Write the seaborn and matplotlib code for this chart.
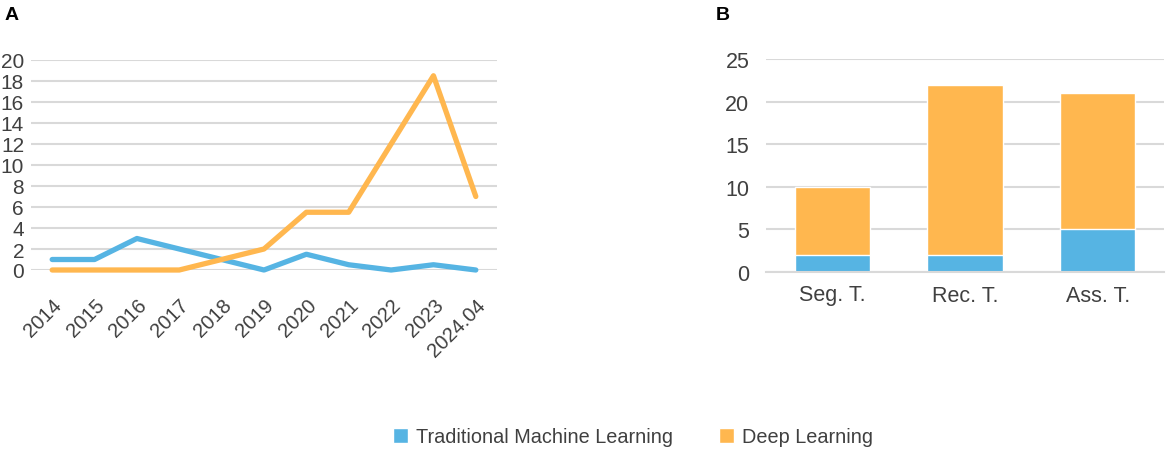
import pandas as pd
import matplotlib
matplotlib.use('Agg')
import matplotlib.pyplot as plt
from matplotlib.patches import Patch
import seaborn as sns

# Panel A: yearly counts
years = ['2014', '2015', '2016', '2017', '2018', '2019', '2020',
         '2021', '2022', '2023', '2024.04']
traditional_ml = [1, 1, 3, 2, 1, 0, 1.5, 0.5, 0, 0.5, 0]
deep_learning = [0, 0, 0, 0, 1, 2, 5.5, 5.5, 12, 18.5, 7]

# Panel B: counts per task
tasks = ['Seg. T.', 'Rec. T.', 'Ass. T.']
task_traditional = [2, 2, 5]
task_deep = [8, 20, 16]

BLUE = '#56B4E3'
ORANGE = '#FFB74F'
GRID = '#D9D9D9'
TEXT = '#404040'

sns.set_style('white')
plt.rcParams['font.family'] = ['Liberation Sans', 'DejaVu Sans']

fig = plt.figure(figsize=(11.7, 4.56), dpi=100)
ax1 = fig.add_axes([31 / 1170, 1 - 271 / 456, 466 / 1170, 210 / 456])
ax2 = fig.add_axes([766 / 1170, 1 - 273 / 456, 398 / 1170, 213 / 456])

# ---- A: line chart
df_a = pd.DataFrame({
    'year': years * 2,
    'count': traditional_ml + deep_learning,
    'method': ['Traditional Machine Learning'] * len(years) + ['Deep Learning'] * len(years),
})
sns.lineplot(data=df_a, x='year', y='count', hue='method', sort=False,
             palette=[BLUE, ORANGE], linewidth=3.8, legend=False, ax=ax1)
for ln in ax1.lines:
    ln.set_clip_on(False)
ax1.set_xlim(-0.5, len(years) - 0.5)
ax1.set_ylim(0, 20)
ax1.set_yticks(range(0, 21, 2))
ax1.yaxis.grid(True, color=GRID, linewidth=1.5)
ax1.set_axisbelow(True)
ax1.set_xticks(range(len(years)))
ax1.set_xticklabels(years, rotation=45, ha='right', rotation_mode='anchor')
ax1.tick_params(axis='x', length=0, labelsize=14.5, colors=TEXT, pad=18)
ax1.tick_params(axis='y', length=0, labelsize=15, colors=TEXT, pad=5)
for s in ax1.spines.values():
    s.set_visible(False)
ax1.set_xlabel('')
ax1.set_ylabel('')

# ---- B: stacked bar chart
df_b = pd.DataFrame({
    'task': tasks,
    'total': [t + d for t, d in zip(task_traditional, task_deep)],
    'traditional': task_traditional,
})
sns.barplot(data=df_b, x='task', y='total', color=ORANGE, saturation=1,
            width=0.57, ax=ax2)
sns.barplot(data=df_b, x='task', y='traditional', color=BLUE, saturation=1,
            width=0.57, ax=ax2)
ax2.set_xlim(-0.5, len(tasks) - 0.5)
ax2.set_ylim(0, 25)
ax2.set_yticks(range(0, 26, 5))
ax2.yaxis.grid(True, color=GRID, linewidth=1.5)
ax2.set_axisbelow(True)
for s in ['top', 'right', 'left']:
    ax2.spines[s].set_visible(False)
ax2.spines['bottom'].set_color(GRID)
ax2.spines['bottom'].set_linewidth(1.5)
ax2.tick_params(axis='y', length=0, labelsize=15.5, colors=TEXT, pad=12)
ax2.tick_params(axis='x', length=0, labelsize=15.5, colors=TEXT, pad=9)
ax2.set_xticks([-0.5, 0.5, 1.5, 2.5], minor=True)
ax2.tick_params(axis='x', which='minor', length=8, width=1.5, color=GRID, direction='out')
ax2.set_xlabel('')
ax2.set_ylabel('')

# panel letters
fig.text(5 / 1170, 1 - 15 / 456, 'A', fontsize=14, fontweight='bold', va='center', color='black')
fig.text(716 / 1170, 1 - 15 / 456, 'B', fontsize=14, fontweight='bold', va='center', color='black')

handles = [Patch(facecolor=BLUE, label='Traditional Machine Learning'),
           Patch(facecolor=ORANGE, label='Deep Learning')]
fig.legend(handles=handles, loc='center', bbox_to_anchor=(633 / 1170, 1 - 438 / 456),
           ncol=2, frameon=False, fontsize=14.3, handlelength=0.75, handleheight=0.75,
           handletextpad=0.4, columnspacing=2.3, labelcolor=TEXT)

fig.savefig('out.png', dpi=100)
